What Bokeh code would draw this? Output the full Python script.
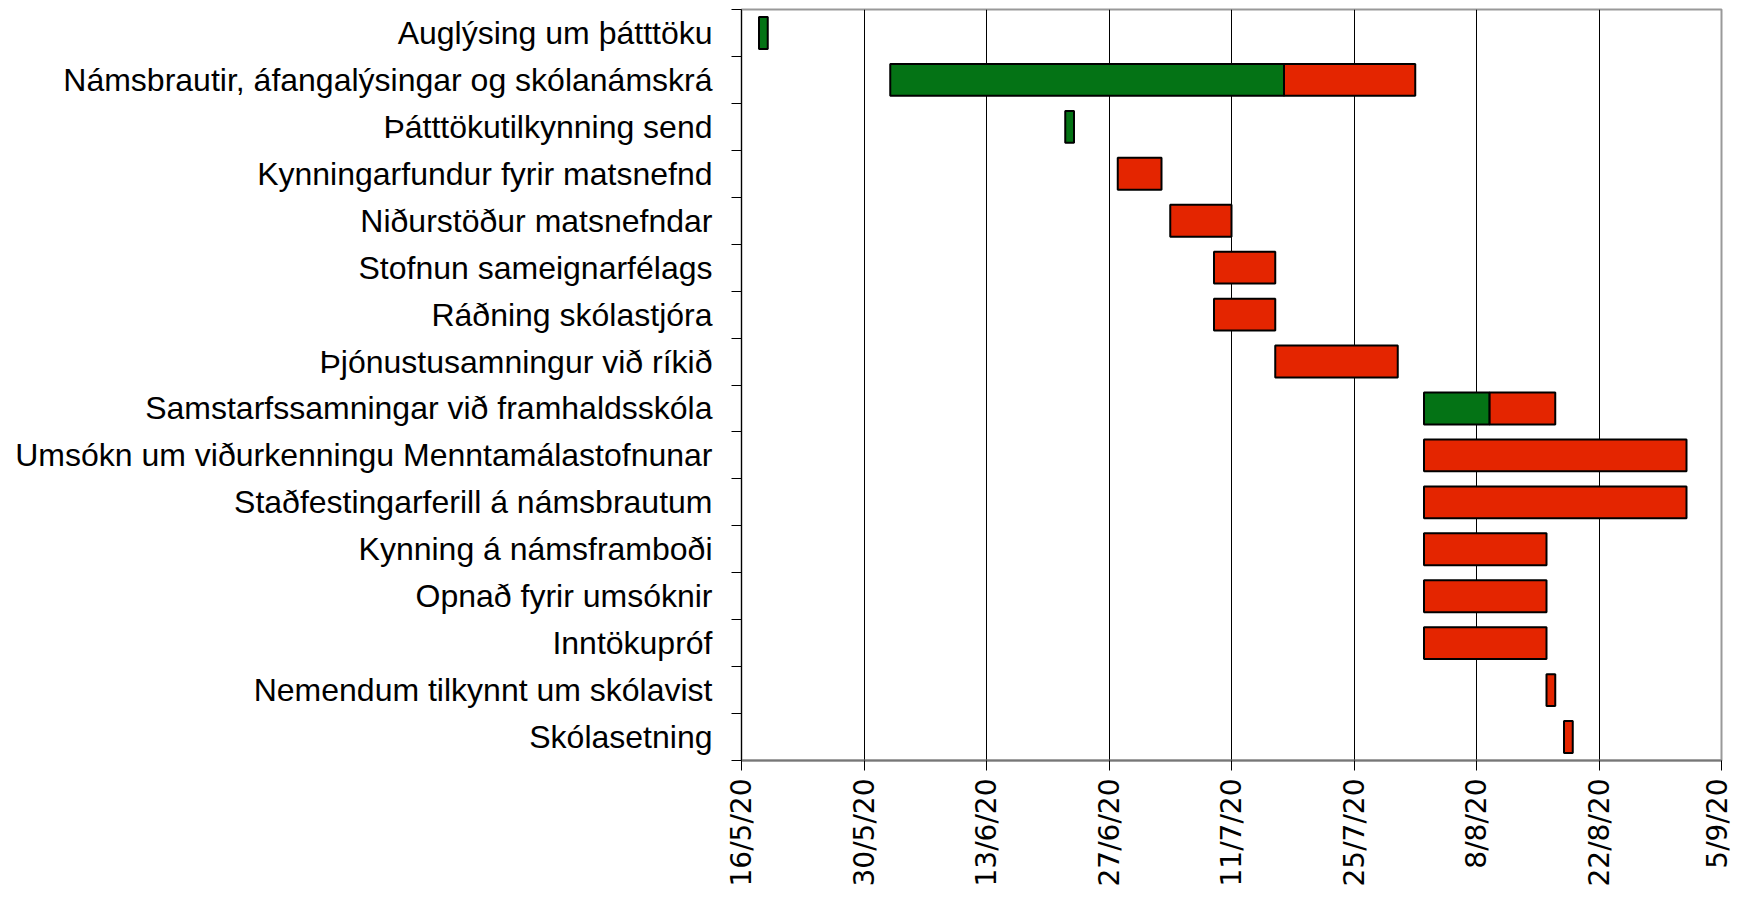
import math
import pandas as pd
from bokeh.plotting import figure
from bokeh.models import ColumnDataSource, Range1d, FixedTicker
from bokeh.embed import file_html
from bokeh.resources import INLINE

# ---------------- data ----------------
tasks = [
    "Auglýsing um þátttöku",
    "Námsbrautir, áfangalýsingar og skólanámskrá",
    "Þátttökutilkynning send",
    "Kynningarfundur fyrir matsnefnd",
    "Niðurstöður matsnefndar",
    "Stofnun sameignarfélags",
    "Ráðning skólastjóra",
    "Þjónustusamningur við ríkið",
    "Samstarfssamningar við framhaldsskóla",
    "Umsókn um viðurkenningu Menntamálastofnunar",
    "Staðfestingarferill á námsbrautum",
    "Kynning á námsframboði",
    "Opnað fyrir umsóknir",
    "Inntökupróf",
    "Nemendum tilkynnt um skólavist",
    "Skólasetning",
]

# completed parts (green)
green_tasks = [
    "Auglýsing um þátttöku",
    "Námsbrautir, áfangalýsingar og skólanámskrá",
    "Þátttökutilkynning send",
    "Samstarfssamningar við framhaldsskóla",
]
green_start = ["2020-05-18", "2020-06-02", "2020-06-22", "2020-08-02"]
green_end = ["2020-05-19", "2020-07-17", "2020-06-23", "2020-08-09 12:00"]

# remaining parts (red)
red_tasks = [
    "Námsbrautir, áfangalýsingar og skólanámskrá",
    "Kynningarfundur fyrir matsnefnd",
    "Niðurstöður matsnefndar",
    "Stofnun sameignarfélags",
    "Ráðning skólastjóra",
    "Þjónustusamningur við ríkið",
    "Samstarfssamningar við framhaldsskóla",
    "Umsókn um viðurkenningu Menntamálastofnunar",
    "Staðfestingarferill á námsbrautum",
    "Kynning á námsframboði",
    "Opnað fyrir umsóknir",
    "Inntökupróf",
    "Nemendum tilkynnt um skólavist",
    "Skólasetning",
]
red_start = ["2020-07-17", "2020-06-28", "2020-07-04", "2020-07-09", "2020-07-09",
             "2020-07-16", "2020-08-09 12:00", "2020-08-02", "2020-08-02", "2020-08-02",
             "2020-08-02", "2020-08-02", "2020-08-16", "2020-08-18"]
red_end = ["2020-08-01", "2020-07-03", "2020-07-11", "2020-07-16", "2020-07-16",
           "2020-07-30", "2020-08-17", "2020-09-01", "2020-09-01", "2020-08-16",
           "2020-08-16", "2020-08-16", "2020-08-17", "2020-08-19"]

tick_dates = ["2020-05-16", "2020-05-30", "2020-06-13", "2020-06-27", "2020-07-11",
              "2020-07-25", "2020-08-08", "2020-08-22", "2020-09-05"]
tick_labels = ["16/5/20", "30/5/20", "13/6/20", "27/6/20", "11/7/20",
               "25/7/20", "8/8/20", "22/8/20", "5/9/20"]

GREEN = "#047315"
RED = "#E42500"


def ms(d):
    return int(pd.Timestamp(d).value // 10**6)


row = {t: i for i, t in enumerate(tasks)}

green_src = ColumnDataSource(dict(
    y=[row[t] for t in green_tasks],
    left=[ms(d) for d in green_start],
    right=[ms(d) for d in green_end],
))
red_src = ColumnDataSource(dict(
    y=[row[t] for t in red_tasks],
    left=[ms(d) for d in red_start],
    right=[ms(d) for d in red_end],
))

tick_ms = [ms(d) for d in tick_dates]

p = figure(
    width=1733, height=889,
    output_backend="svg", toolbar_location=None,
    x_range=Range1d(tick_ms[0], tick_ms[-1]),
    y_range=Range1d(len(tasks) - 0.5, -0.5),
    min_border_left=741, min_border_right=12,
    min_border_top=9, min_border_bottom=0,
)
p.background_fill_color = "white"
p.border_fill_color = "white"
p.outline_line_color = "#999999"
p.outline_line_width = 2

# grid
xticker = FixedTicker(ticks=tick_ms)
p.xgrid.ticker = xticker
p.xgrid.grid_line_color = "black"
p.xgrid.grid_line_width = 1
p.ygrid.visible = False

# bars
p.hbar(y="y", left="left", right="right", height=0.68, source=green_src,
       fill_color=GREEN, line_color="black", line_width=2)
p.hbar(y="y", left="left", right="right", height=0.68, source=red_src,
       fill_color=RED, line_color="black", line_width=2)

# x axis
xa = p.xaxis[0]
xa.ticker = xticker
xa.major_label_overrides = {t: l for t, l in zip(tick_ms, tick_labels)}
xa.major_label_orientation = math.pi / 2
xa.major_label_text_font = "DejaVu Sans"
xa.major_label_text_font_size = "28px"
xa.major_label_text_color = "black"
xa.major_label_standoff = 8
xa.major_tick_out = 10
xa.major_tick_in = 0
xa.minor_tick_out = 0
xa.minor_tick_in = 0
xa.major_tick_line_color = "black"
xa.axis_line_color = "#777777"
xa.axis_line_width = 2

# y axis
ya = p.yaxis[0]
ya.ticker = FixedTicker(ticks=list(range(len(tasks))),
                        minor_ticks=[i - 0.5 for i in range(len(tasks) + 1)])
ya.major_label_overrides = {i: t for i, t in enumerate(tasks)}
ya.major_label_text_font = "Liberation Sans"
ya.major_label_text_font_size = "32px"
ya.major_label_text_color = "black"
ya.major_label_standoff = 19
ya.major_tick_out = 0
ya.major_tick_in = 0
ya.minor_tick_out = 10
ya.minor_tick_in = 0
ya.minor_tick_line_color = "black"
ya.axis_line_color = "black"
ya.axis_line_width = 1

open("out.html", "w").write(file_html(p, INLINE))
